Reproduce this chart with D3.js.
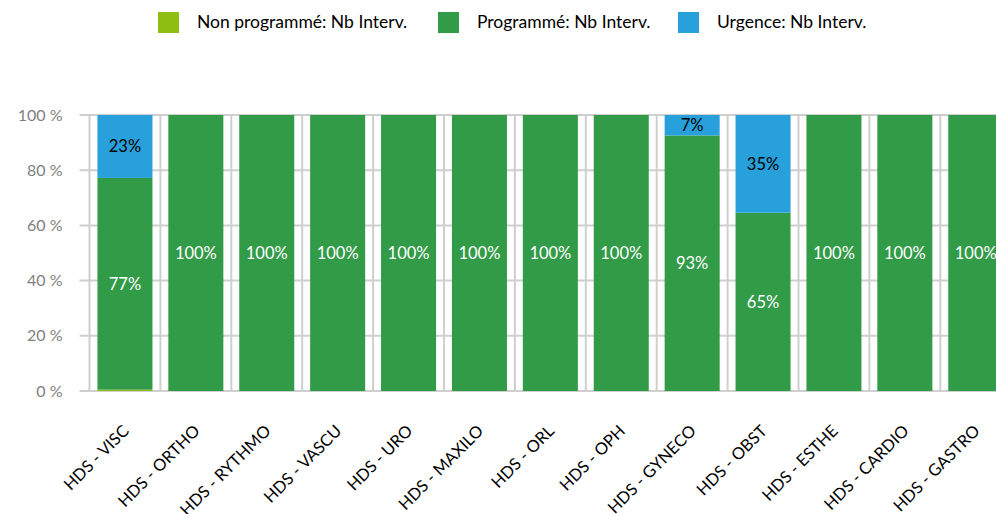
<!DOCTYPE html>
<html>
<head>
<meta charset="utf-8">
<script src="https://cdn.jsdelivr.net/npm/d3@7"></script>
<style>
  body { margin: 0; background: #fff; }
  svg { display: block; font-family: Lato, "Open Sans", sans-serif; }
</style>
</head>
<body>
<svg id="chart" width="996" height="514"></svg>
<script>
// data (percent of interventions per speciality)
const categories = ["HDS - VISC", "HDS - ORTHO", "HDS - RYTHMO", "HDS - VASCU", "HDS - URO",
  "HDS - MAXILO", "HDS - ORL", "HDS - OPH", "HDS - GYNECO", "HDS - OBST",
  "HDS - ESTHE", "HDS - CARDIO", "HDS - GASTRO"];
const nonProgramme = [0.5, 0, 0, 0, 0, 0, 0, 0, 0, 0, 0, 0, 0];
const programme = [76.7, 100, 100, 100, 100, 100, 100, 100, 92.6, 64.6, 100, 100, 100];
const urgence = [22.8, 0, 0, 0, 0, 0, 0, 0, 7.4, 35.4, 0, 0, 0];
const yTicks = [0, 20, 40, 60, 80, 100];

const seriesNames = ["Non programmé: Nb Interv.", "Programmé: Nb Interv.", "Urgence: Nb Interv."];
const colors = ["#8dbf12", "#329b48", "#27a0db"];
const labelColors = ["#fff", "#fff", "#000"];

const rows = categories.map((c, i) => ({cat: c, s0: nonProgramme[i], s1: programme[i], s2: urgence[i]}));
const stack = d3.stack().keys(["s0", "s1", "s2"])(rows);

const svg = d3.select("#chart");
const left = 89.5, step = 70.9;
const plotRight = left + step * categories.length;

const x = d3.scaleBand()
  .domain(categories)
  .range([left, plotRight])
  .paddingInner(0.224)
  .paddingOuter(0.112);
const y = d3.scaleLinear().domain([0, 100]).range([391, 115]);

const gap = (x.step() - x.bandwidth()) / 2;

// grid
const grid = svg.append("g").attr("stroke", "#cfcfcf").attr("stroke-width", 2);
grid.selectAll("line.h").data(yTicks).join("line")
  .attr("class", "h")
  .attr("x1", left - 10).attr("x2", plotRight)
  .attr("y1", d => y(d)).attr("y2", d => y(d));
grid.selectAll("line.v").data(categories.concat([null])).join("line")
  .attr("class", "v")
  .attr("x1", (d, i) => d ? x(d) - gap : plotRight)
  .attr("x2", (d, i) => d ? x(d) - gap : plotRight)
  .attr("y1", y(0)).attr("y2", y(100));

// y axis labels
const yAxis = svg.append("g")
  .attr("transform", `translate(${left},0)`)
  .call(d3.axisLeft(y).tickValues(yTicks).tickFormat(d => d + " %").tickSize(0).tickPadding(27));
yAxis.select(".domain").remove();
yAxis.selectAll("text").attr("fill", "#808080").style("font-size", "16px").style("font-family", "Lato, sans-serif");

// bars
const layers = svg.append("g").selectAll("g").data(stack).join("g")
  .attr("fill", (d, i) => colors[i]);
layers.selectAll("rect").data(d => d).join("rect")
  .attr("x", d => x(d.data.cat))
  .attr("width", x.bandwidth())
  .attr("y", d => y(d[1]))
  .attr("height", d => y(d[0]) - y(d[1]));

// value labels
stack.forEach((layer, i) => {
  svg.append("g").selectAll("text")
    .data(layer.filter(d => d[1] - d[0] >= 3))
    .join("text")
    .attr("x", d => x(d.data.cat) + x.bandwidth() / 2)
    .attr("y", d => (y(d[0]) + y(d[1])) / 2)
    .attr("dy", "0.35em")
    .attr("text-anchor", "middle")
    .attr("fill", labelColors[i])
    .style("font-size", "16.5px")
    .text(d => Math.round(d[1] - d[0]) + "%");
});

// x labels
svg.append("g").selectAll("text").data(categories).join("text")
  .attr("transform", d => `translate(${x(d) + x.bandwidth() / 2 + 5},432) rotate(-45)`)
  .attr("text-anchor", "end")
  .attr("fill", "#000")
  .style("font-size", "16.5px")
  .text(d => d);

// legend
const legendX = [158, 438, 678];
const legend = svg.append("g").selectAll("g").data(seriesNames).join("g")
  .attr("transform", (d, i) => `translate(${legendX[i]},12)`);
legend.append("rect").attr("width", 21).attr("height", 21).attr("fill", (d, i) => colors[i]);
legend.append("text")
  .attr("x", 39).attr("y", 16)
  .attr("fill", "#000")
  .style("font-size", "17.5px")
  .text(d => d);
</script>
</body>
</html>
